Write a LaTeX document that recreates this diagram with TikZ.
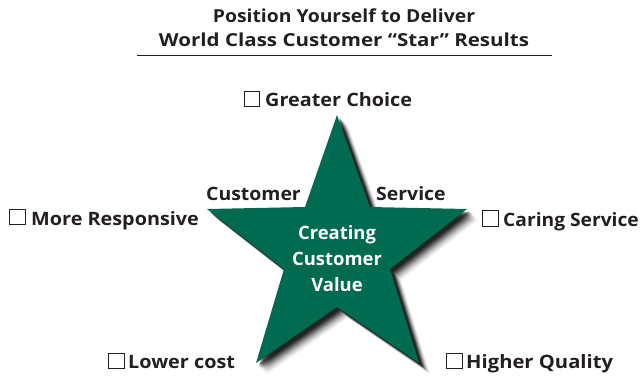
\documentclass[tikz,border=0pt]{standalone}
\usepackage{fontspec}
\setmainfont{Open Sans}
\definecolor{stargreen}{RGB}{0,107,80}
\definecolor{ink}{RGB}{35,31,32}
\tikzset{
  x=1bp,y=-1bp,
  lab/.style={font=\bfseries\fontsize{18.5}{20}\selectfont,text=ink,inner sep=0pt,anchor=base west,xscale=1.075},
  ttl/.style={font=\bfseries\fontsize{18}{18}\selectfont,text=ink,inner sep=0pt,anchor=base},
  mid/.style={font=\bfseries\fontsize{18.5}{26.5}\selectfont,text=white,inner sep=0pt,align=center},
  tick/.style={draw=ink,line width=0.8pt,fill=white},
  starpath/.style={insert path={(337,115)--(370,207)--(467,209)--(390,269)--(419,363)--(337,307)--(256,363)--(284,269)--(207,209)--(305,207)--cycle}}
}
\begin{document}
\begin{tikzpicture}
\useasboundingbox (0,0) rectangle (641,378);
\node[ttl,xscale=1.08] (t1) at (344,22) {Position Yourself to Deliver};
\node[ttl,xscale=1.145] (t2) at (344,46.7) {World Class Customer “Star” Results};
\draw[ink,line width=1.2pt] (137,55.5) -- (552,55.5);
\foreach \d/\o in {11/.05,10/.07,9/.09,8/.12,7/.16,6/.2,5/.27,4/.34,3/.4}{
  \fill[black,opacity=\o,shift={(\d,\d)},starpath];
}
\fill[stargreen,starpath];
\draw[tick] (244,91) rectangle (259.5,106);
\node[lab] (a) at (265,106) {Greater Choice};
\draw[tick] (9.5,209) rectangle (25.5,224.5);
\node[lab] (b) at (31,225) {More Responsive};
\draw[tick] (482,210) rectangle (498,226);
\node[lab,xscale=.97] (c) at (503,226) {Caring Service};
\draw[tick] (108,353) rectangle (124,368);
\node[lab] (d) at (128,368) {Lower cost};
\draw[tick] (446,353) rectangle (462,368);
\node[lab,xscale=1.02] (e) at (466,368) {Higher Quality};
\node[lab,xscale=.98] (f) at (206,200.5) {Customer};
\node[lab,xscale=.98] (g) at (376,200.5) {Service};
\node[mid] (m) at (337,258.5) {Creating\\Customer\\Value};
\end{tikzpicture}
\end{document}
